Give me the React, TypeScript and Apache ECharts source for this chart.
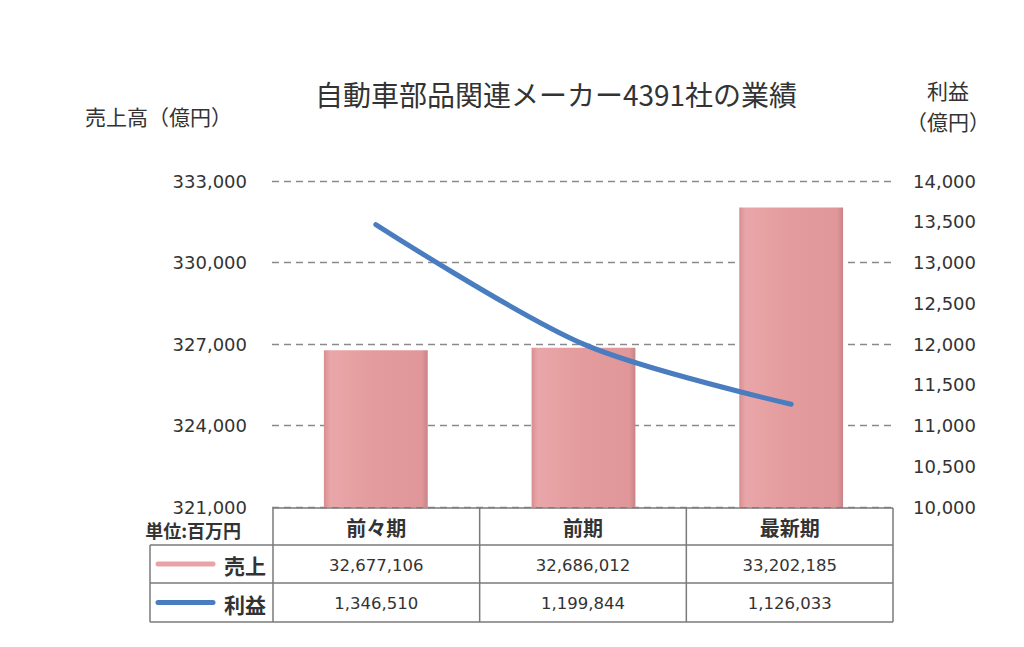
import React, { useEffect, useRef } from "react";
import * as echarts from "echarts";

const titleText = "自動車部品関連メーカー4391社の業績";
const categories = ["前々期", "前期", "最新期"];
const seriesNames = ["売上", "利益"];
// values as shown in the table (unit: 百万円)
const salesMillionYen = [32677106, 32686012, 33202185];
const profitMillionYen = [1346510, 1199844, 1126033];
const leftAxisName = "売上高（億円）";
const rightAxisName = ["利益", "（億円）"];
const unitText = "単位:百万円";

// chart plots in 億円 (1億円 = 100百万円)
const salesOku = salesMillionYen.map((v) => v / 100);
const profitOku = profitMillionYen.map((v) => v / 100);

const JP = "'Noto Sans CJK JP', 'Noto Sans', sans-serif";
const NUM = "'DejaVu Sans', sans-serif";
const TXT = "#333333";
const BORDER = "#7a7a7a";

const fmt = (v: number) => v.toLocaleString("en-US");

export default function App() {
  const ref = useRef<HTMLDivElement>(null);
  useEffect(() => {
    if (!ref.current) return;
    const chart = echarts.init(ref.current, undefined, { renderer: "svg" });

    // table layout
    const tX0 = 150, tX1 = 273, tX4 = 893;
    const colW = (tX4 - tX1) / categories.length;
    const rowY = [508, 545, 583, 622];
    const graphics: any[] = [];
    const line = (x1: number, y1: number, x2: number, y2: number) =>
      graphics.push({ type: "line", shape: { x1, y1, x2, y2 }, style: { stroke: BORDER, lineWidth: 1.5 }, z: 10 });
    line(tX1, rowY[0], tX4, rowY[0]);
    line(tX0, rowY[1], tX4, rowY[1]);
    line(tX0, rowY[2], tX4, rowY[2]);
    line(tX0, rowY[3], tX4, rowY[3]);
    line(tX0, rowY[1], tX0, rowY[3]);
    for (let i = 0; i <= categories.length; i++) {
      const x = tX1 + colW * i;
      line(x, rowY[0], x, rowY[3]);
    }
    categories.forEach((c, i) => {
      graphics.push({
        type: "text", x: tX1 + colW * (i + 0.5), y: (rowY[0] + rowY[1]) / 2 + 1, z: 11,
        style: { text: c, fill: TXT, font: `bold 20px ${JP}`, align: "center", verticalAlign: "middle" },
      });
      graphics.push({
        type: "text", x: tX1 + colW * (i + 0.5), y: (rowY[1] + rowY[2]) / 2 + 1, z: 11,
        style: { text: fmt(salesMillionYen[i]), fill: TXT, font: `16.5px ${NUM}`, align: "center", verticalAlign: "middle" },
      });
      graphics.push({
        type: "text", x: tX1 + colW * (i + 0.5), y: (rowY[2] + rowY[3]) / 2 + 1, z: 11,
        style: { text: fmt(profitMillionYen[i]), fill: TXT, font: `16.5px ${NUM}`, align: "center", verticalAlign: "middle" },
      });
    });
    const keyColors = ["#e9a3a6", "#4a7dbf"];
    seriesNames.forEach((n, r) => {
      const cy = (rowY[r + 1] + rowY[r + 2]) / 2;
      graphics.push({
        type: "line", z: 11,
        shape: { x1: 158, y1: cy, x2: 213, y2: cy },
        style: { stroke: keyColors[r], lineWidth: 5, lineCap: "round" },
      });
      graphics.push({
        type: "text", x: 266, y: cy + 1, z: 11,
        style: { text: n, fill: TXT, font: `bold 21px ${JP}`, align: "right", verticalAlign: "middle" },
      });
    });
    graphics.push({
      type: "text", x: 241, y: 530, z: 11,
      style: { text: unitText, fill: TXT, font: `bold 18px ${JP}`, align: "right", verticalAlign: "middle" },
    });
    graphics.push({
      type: "text", x: 85, y: 116,
      style: { text: leftAxisName, fill: TXT, font: `21px ${JP}`, align: "left", verticalAlign: "middle" },
    });
    graphics.push({
      type: "text", x: 948, y: 90,
      style: { text: rightAxisName[0], fill: TXT, font: `21px ${JP}`, align: "center", verticalAlign: "middle" },
    });
    graphics.push({
      type: "text", x: 948, y: 121,
      style: { text: rightAxisName[1], fill: TXT, font: `21px ${JP}`, align: "center", verticalAlign: "middle" },
    });

    chart.setOption({
      animation: false,
      backgroundColor: "#ffffff",
      title: {
        text: titleText,
        left: 551,
        top: 75,
        textAlign: "center",
        textStyle: { fontFamily: JP, fontSize: 28, fontWeight: "normal", color: TXT },
      },
      grid: { left: 272, right: 129, top: 181, bottom: 140 },
      xAxis: {
        type: "category",
        data: categories,
        boundaryGap: true,
        axisLine: { show: false },
        axisTick: { show: false },
        axisLabel: { show: false },
      },
      yAxis: [
        {
          type: "value",
          min: 321000,
          max: 333000,
          interval: 3000,
          axisLine: { show: false },
          axisTick: { show: false },
          axisLabel: {
            margin: 25,
            color: TXT,
            fontFamily: NUM,
            fontSize: 18,
            formatter: (v: number) => fmt(v),
          },
          splitLine: { show: true, lineStyle: { color: "#8a8a8a", type: [7, 5], width: 1.3 } },
        },
        {
          type: "value",
          min: 10000,
          max: 14000,
          interval: 500,
          position: "right",
          axisLine: { show: false },
          axisTick: { show: false },
          axisLabel: {
            margin: 18,
            color: TXT,
            fontFamily: NUM,
            fontSize: 18,
            formatter: (v: number) => fmt(v),
          },
          splitLine: { show: false },
        },
      ],
      series: [
        {
          name: seriesNames[0],
          type: "bar",
          yAxisIndex: 0,
          data: salesOku,
          barWidth: "50%",
          itemStyle: {
            color: {
              type: "linear", x: 0, y: 0, x2: 1, y2: 0,
              colorStops: [
                { offset: 0, color: "#d98d90" },
                { offset: 0.06, color: "#e9a6a8" },
                { offset: 0.5, color: "#e39b9d" },
                { offset: 0.94, color: "#e0979a" },
                { offset: 1, color: "#c98487" },
              ],
            },
          },
          z: 2,
        },
        {
          name: seriesNames[1],
          type: "line",
          yAxisIndex: 1,
          data: profitOku,
          smooth: 0.3,
          symbol: "none",
          lineStyle: { color: "#4a7dbf", width: 5, cap: "round" },
          z: 3,
        },
      ],
      graphic: graphics,
    });
    return () => chart.dispose();
  }, []);
  return (
    <div
      ref={ref}
      style={{ position: "fixed", left: 0, top: 0, width: 1024, height: 647, background: "#fff" }}
    />
  );
}
